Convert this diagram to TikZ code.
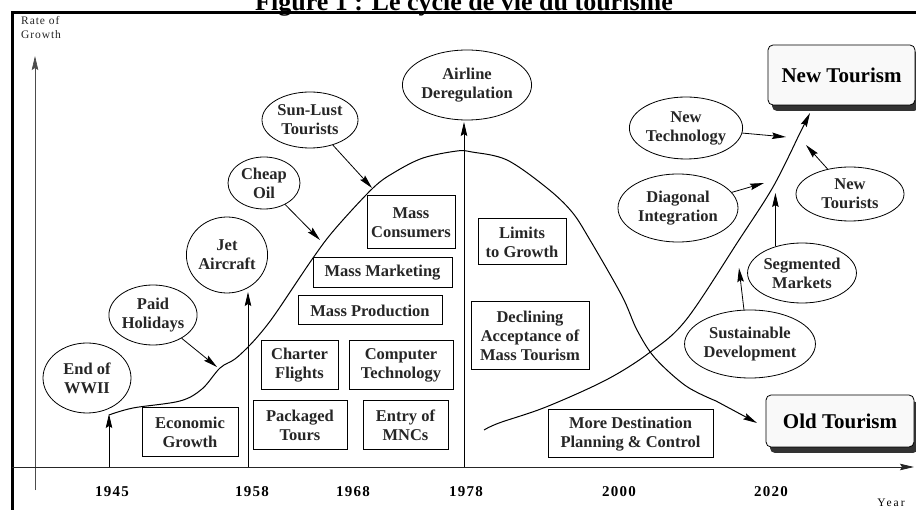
\documentclass[tikz,border=0pt]{standalone}
\usepackage{fontspec}
\setmainfont{Liberation Serif}
\usetikzlibrary{arrows.meta,shapes.geometric,shadows}
\begin{document}
\begin{tikzpicture}[x=1pt,y=-1pt,
  lbl/.style={font=\bfseries\fontsize{16.5}{19}\selectfont, align=center, text=black!85},
  ell/.style={ellipse, draw, line width=0.8pt, inner sep=0pt, lbl},
  box/.style={rectangle, draw, line width=1pt, inner sep=0pt, lbl},
  arr/.style={line width=0.8pt, -{Stealth[length=14pt,width=6.5pt,inset=2pt]}},
  curve/.style={line width=1pt},
  big/.style={rectangle, rounded corners=5pt, draw, line width=0.8pt, fill=gray!5, inner sep=0pt,
     font=\bfseries\fontsize{21}{24}\selectfont,
     drop shadow={shadow xshift=4pt, shadow yshift=-6pt, fill=black!80, opacity=1}},
  year/.style={font=\bfseries\fontsize{15}{17}\selectfont\addfontfeature{LetterSpace=8}}
]
\useasboundingbox (0,0) rectangle (916,510);
\clip (0,0) rectangle (916,510);
\fill[white] (0,0) rectangle (916,510);

% title and frame
\node[font=\bfseries\fontsize{26}{28}\selectfont, anchor=base] (title) at (464,11) {Figure 1 : Le cycle de vie du tourisme};
\draw[line width=3pt] (12,540) -- (12,13) -- (940,13);

% axis labels
\node[font=\fontsize{11.5}{14}\selectfont\addfontfeature{LetterSpace=8}, align=left, anchor=north west, inner sep=0pt, text=black!85] (rog) at (21,16) {Rate of\\Growth};
\node[font=\fontsize{11.5}{13}\selectfont\addfontfeature{LetterSpace=18}] (yearlbl) at (891,503) {Year};

% axes
\coordinate (yb) at (35,490);
\coordinate (yt) at (35,56);
\coordinate (xl) at (12,467);
\coordinate (xr) at (914,467);
\draw[arr, black!70, line width=0.7pt] (yb) -- (yt);
\draw[arr, black!85] (xl) -- (xr);

% year labels
\node[year] (y45) at (112,492) {1945};
\node[year] (y58) at (252,492) {1958};
\node[year] (y68) at (353,492) {1968};
\node[year] (y78) at (466,492) {1978};
\node[year] (y00) at (619,492) {2000};
\node[year] (y20) at (771,492) {2020};

% vertical markers
\coordinate (a45) at (109,467); \coordinate (t45) at (109,414);
\coordinate (a58) at (248,467); \coordinate (t58) at (248,292);
\coordinate (a78) at (464,467); \coordinate (t78) at (464,122);
\draw[arr] (a45) -- (t45);
\draw[arr] (a58) -- (t58);
\draw[arr] (a78) -- (t78);

% old tourism curve
\coordinate (oldtip) at (757,423);
\draw[curve, -{Stealth[length=14pt,width=6.5pt,inset=2pt]}] plot[smooth, tension=0.55] coordinates {
 (109,415) (133,408) (180,401) (202,389) (220,368) (235,359) (250,345) (264,329)
 (278,310) (313,258) (335,229) (373,188) (395,172) (423,158) (457,151) (472,152)
 (507,160) (547,188) (572,212) (590,240) (622,296) (637,330) (655,358) (686,386)
 (716,401)} -- (oldtip);

% new tourism curve
\coordinate (newtip) at (810,113);
\draw[curve, -{Stealth[length=14pt,width=6.5pt,inset=2pt]}] plot[smooth, tension=0.55] coordinates {
 (484,430) (499,423) (546,407) (606,380) (649,353) (686,320) (739,240) (773,187) (798,137)} -- (newtip);

% ellipses
\node[ell, minimum width=88pt, minimum height=70pt] (wwii) at (87,378) {End of\\WWII};
\node[ell, minimum width=86pt, minimum height=60pt] (paid) at (153,315) {Paid\\Holidays};
\node[ell, minimum width=72pt, minimum height=76pt] (jet) at (227,255) {Jet\\Aircraft};
\node[ell, minimum width=72pt, minimum height=52pt] (cheap) at (264,183) {Cheap\\Oil};
\node[ell, minimum width=96pt, minimum height=56pt] (sun) at (310,120) {Sun-Lust\\Tourists};
\node[ell, minimum width=126pt, minimum height=70pt] (airline) at (467,85) {Airline\\Deregulation};
\node[ell, minimum width=104pt, minimum height=62pt] (newtech) at (686,128) {New\\Technology};
\node[ell, minimum width=120pt, minimum height=68pt] (diag) at (678,208) {Diagonal\\Integration};
\node[ell, minimum width=108pt, minimum height=54pt] (newtour) at (850,194) {New\\Tourists};
\node[ell, minimum width=102pt, minimum height=60pt] (seg) at (802,273) {Segmented\\Markets};
\node[ell, minimum width=116pt, minimum height=68pt] (sus) at (750,344) {Sustainable\\Development};

% boxes
\node[box, minimum width=96pt, minimum height=49pt] (econ) at (190,432.5) {Economic\\Growth};
\node[box, minimum width=77pt, minimum height=49pt] (charter) at (299.5,365.5) {Charter\\Flights};
\node[box, minimum width=104pt, minimum height=49pt] (comp) at (401,365.5) {Computer\\Technology};
\node[box, minimum width=94pt, minimum height=49pt] (pack) at (300,425.5) {Packaged\\Tours};
\node[box, minimum width=85pt, minimum height=49pt] (mnc) at (405.5,425.5) {Entry of\\MNCs};
\node[box, minimum width=144pt, minimum height=29pt] (mprod) at (370,310.5) {Mass Production};
\node[box, minimum width=139pt, minimum height=30pt] (mmkt) at (382.5,273) {Mass Marketing};
\node[box, minimum width=88pt, minimum height=53pt] (mcons) at (411,222.5) {Mass\\Consumers};
\node[box, minimum width=88pt, minimum height=46pt] (limits) at (522,242) {Limits\\to Growth};
\node[box, minimum width=118pt, minimum height=68pt] (decl) at (530,336) {Declining\\Acceptance of\\Mass Tourism};
\node[box, minimum width=165pt, minimum height=48pt] (more) at (630.5,434) {More Destination\\Planning \& Control};

% big rounded boxes
\node[big, minimum width=147pt, minimum height=60pt] (newT) at (841.5,75) {New Tourism};
\node[big, minimum width=148pt, minimum height=52pt] (oldT) at (840,421) {Old Tourism};

% influence arrows
\coordinate (paidtip) at (217,367);
\coordinate (cheaptip) at (320,240);
\coordinate (suntip) at (372,188);
\coordinate (nttip) at (786,137);
\coordinate (diagtip) at (764,183);
\coordinate (ntrtip) at (806,145);
\coordinate (segtip) at (774,193);
\coordinate (sustip) at (739,268);
\draw[arr] (paid) -- (paidtip);
\draw[arr] (cheap) -- (cheaptip);
\draw[arr] (sun) -- (suntip);
\draw[arr] (newtech) -- (nttip);
\draw[arr] (diag) -- (diagtip);
\draw[arr] (newtour) -- (ntrtip);
\draw[arr] (seg.135) -- (seg.135 |- segtip);
\draw[arr] (sus.100) -- (sustip);
\end{tikzpicture}
\end{document}
